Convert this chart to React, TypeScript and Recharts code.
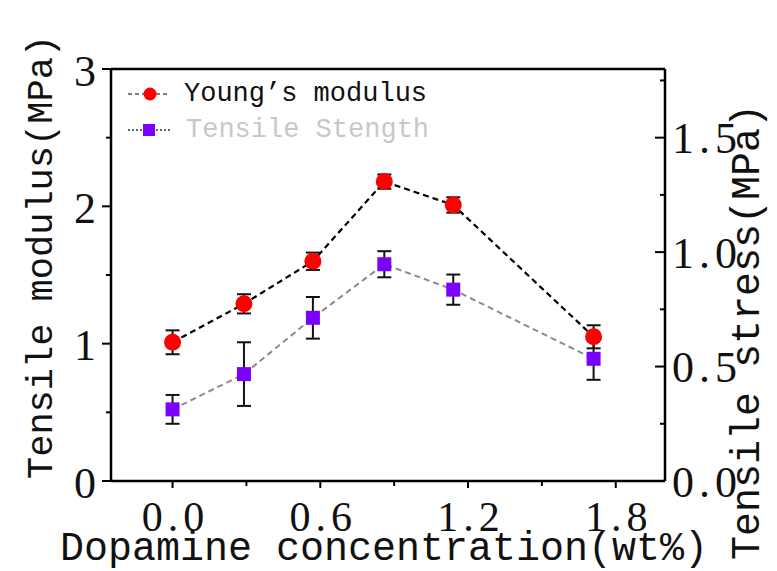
import React from 'react';
import { LineChart, Line, XAxis, YAxis, ErrorBar, Legend, ReferenceLine } from 'recharts';

// dopamine concentration (wt%)
const concentrations = [0, 0.29, 0.57, 0.86, 1.14, 1.71];
// tensile modulus (MPa), left axis
const youngsModulus = [1.01, 1.29, 1.6, 2.18, 2.01, 1.05];
const youngsErr = [0.087, 0.07, 0.063, 0.052, 0.056, 0.084];
// tensile stress (MPa), right axis
const tensileStrength = [0.313, 0.467, 0.713, 0.947, 0.836, 0.534];
const tensileErr = [0.063, 0.139, 0.091, 0.057, 0.066, 0.092];

const seriesNames = ['Young’s modulus', 'Tensile Stength'];

const xTicks = [0, 0.3, 0.6, 0.9, 1.2, 1.5, 1.8];
const xLabelTicks = [0, 0.6, 1.2, 1.8];
const leftTicks = [0, 0.5, 1, 1.5, 2, 2.5, 3];
const leftLabelTicks = [0, 1, 2, 3];
const rightTicks = [0, 0.25, 0.5, 0.75, 1, 1.25, 1.5, 1.75];
const rightLabelTicks = [0, 0.5, 1, 1.5];

const NUM_FONT = '"Liberation Serif", serif';
const TEXT_FONT = '"Liberation Mono", monospace';

const isMajor = (v: number, list: number[]) => list.some((m) => Math.abs(m - v) < 1e-6);

const BottomTick = (props: any) => {
  const { x, y, payload } = props;
  const major = isMajor(payload.value, xLabelTicks);
  return (
    <g>
      <line x1={x} x2={x} y1={y} y2={y + (major ? 7 : 5)} stroke="#000" strokeWidth={2} />
      {major && (
        <text x={x + 3} y={y + 36} textAnchor="middle" dominantBaseline="central" fontFamily={NUM_FONT} fontSize={42} letterSpacing={5} fill="#111">
          {payload.value.toFixed(1)}
        </text>
      )}
    </g>
  );
};

const LeftTick = (props: any) => {
  const { x, y, payload } = props;
  const major = isMajor(payload.value, leftLabelTicks);
  return (
    <g>
      <line x1={x} x2={x - (major ? 9 : 5)} y1={y} y2={y} stroke="#000" strokeWidth={2} />
      {major && (
        <text x={x - 15} y={y + 2} textAnchor="end" dominantBaseline="central" fontFamily={NUM_FONT} fontSize={44} fill="#111">
          {String(payload.value)}
        </text>
      )}
    </g>
  );
};

const RightTick = (props: any) => {
  const { x, y, payload } = props;
  const major = isMajor(payload.value, rightLabelTicks);
  return (
    <g>
      <line x1={x} x2={x - (major ? 10 : 5)} y1={y} y2={y} stroke="#000" strokeWidth={2} />
      {major && (
        <text x={x + 7} y={y + 1} textAnchor="start" dominantBaseline="central" fontFamily={NUM_FONT} fontSize={44} letterSpacing={5} fill="#111">
          {payload.value.toFixed(1)}
        </text>
      )}
    </g>
  );
};

const axisTitle = (x: number, y: number, text: string, size: number, rotate: boolean) => () => (
  <text
    x={x}
    y={y}
    textAnchor="middle"
    dominantBaseline="central"
    fontFamily={TEXT_FONT}
    fontSize={size}
    fill="#111"
    transform={rotate ? `rotate(-90 ${x} ${y})` : undefined}
  >
    {text}
  </text>
);

const SquareDot = (props: any) => {
  const { cx, cy } = props;
  if (cx == null || cy == null) return null;
  return <rect x={cx - 7} y={cy - 7} width={14} height={14} fill="#7a00ff" />;
};

const renderLegend = () => (
  <svg width={340} height={76}>
    <line x1={8} x2={50} y1={18} y2={18} stroke="#555" strokeWidth={1.5} strokeDasharray="4 3" />
    <circle cx={30} cy={18} r={6.5} fill="#ff0000" />
    <text x={64} y={18} dominantBaseline="central" fontFamily={TEXT_FONT} fontSize={27} fill="#111">
      {seriesNames[0]}
    </text>
    <line x1={8} x2={50} y1={54} y2={54} stroke="#333" strokeWidth={1.5} strokeDasharray="2 2" />
    <rect x={23} y={48} width={12} height={12} fill="#7a00ff" />
    <text x={66} y={54} dominantBaseline="central" fontFamily={TEXT_FONT} fontSize={27} fill="#c8c8c8">
      {seriesNames[1]}
    </text>
  </svg>
);

export default function App() {
  const data = concentrations.map((c, i) => ({
    conc: c,
    ym: youngsModulus[i],
    ymErr: youngsErr[i],
    ts: tensileStrength[i],
    tsErr: tensileErr[i],
  }));

  return (
    <div style={{ width: 777, height: 571, background: '#fff' }}>
      <style>{'body{margin:0}'}</style>
      <LineChart width={777} height={571} data={data} margin={{ top: 69, right: 0, bottom: 0, left: 0 }}>
        <XAxis
          dataKey="conc"
          type="number"
          domain={[-0.25, 2.0]}
          allowDataOverflow
          ticks={xTicks}
          interval={0}
          height={90}
          tickSize={0}
          tickMargin={0}
          tickLine={false}
          axisLine={{ stroke: '#000', strokeWidth: 2.5 }}
          tick={<BottomTick />}
          label={axisTitle(384, 549, 'Dopamine concentration(wt%)', 40, false)}
        />
        <YAxis
          yAxisId="left"
          domain={[0, 3]}
          allowDataOverflow
          ticks={leftTicks}
          interval={0}
          width={111}
          tickSize={0}
          tickMargin={0}
          tickLine={false}
          axisLine={{ stroke: '#000', strokeWidth: 2.5 }}
          tick={<LeftTick />}
          label={axisTitle(42, 257, 'Tensile modulus(MPa)', 37, true)}
        />
        <YAxis
          yAxisId="right"
          orientation="right"
          domain={[0, 1.8]}
          allowDataOverflow
          ticks={rightTicks}
          interval={0}
          width={112}
          tickSize={0}
          tickMargin={0}
          tickLine={false}
          axisLine={{ stroke: '#000', strokeWidth: 2.5 }}
          tick={<RightTick />}
          label={axisTitle(748, 332, 'Tensile stress(MPa)', 40, true)}
        />
        <ReferenceLine yAxisId="left" y={3} stroke="#000" strokeWidth={2.5} />
        <Line
          yAxisId="left"
          dataKey="ym"
          name={seriesNames[0]}
          stroke="#000"
          strokeWidth={2.2}
          strokeDasharray="6 4"
          dot={{ r: 8.5, fill: '#ff0000', stroke: 'none' }}
          activeDot={false}
          isAnimationActive={false}
        />
        <Line
          yAxisId="right"
          dataKey="ts"
          name={seriesNames[1]}
          stroke="#8a8a8a"
          strokeWidth={2}
          strokeDasharray="6 4"
          dot={<SquareDot />}
          activeDot={false}
          isAnimationActive={false}
        />
        <Line yAxisId="left" dataKey="ym" stroke="none" dot={false} activeDot={false} legendType="none" isAnimationActive={false}>
          <ErrorBar dataKey="ymErr" width={7} strokeWidth={2} stroke="#111" />
        </Line>
        <Line yAxisId="right" dataKey="ts" stroke="none" dot={false} activeDot={false} legendType="none" isAnimationActive={false}>
          <ErrorBar dataKey="tsErr" width={7} strokeWidth={2} stroke="#111" />
        </Line>
        <Legend
          layout="vertical"
          align="center"
          verticalAlign="middle"
          content={renderLegend}
          wrapperStyle={{ position: 'absolute', top: 76, left: 120, width: 340, height: 76 }}
        />
      </LineChart>
    </div>
  );
}
